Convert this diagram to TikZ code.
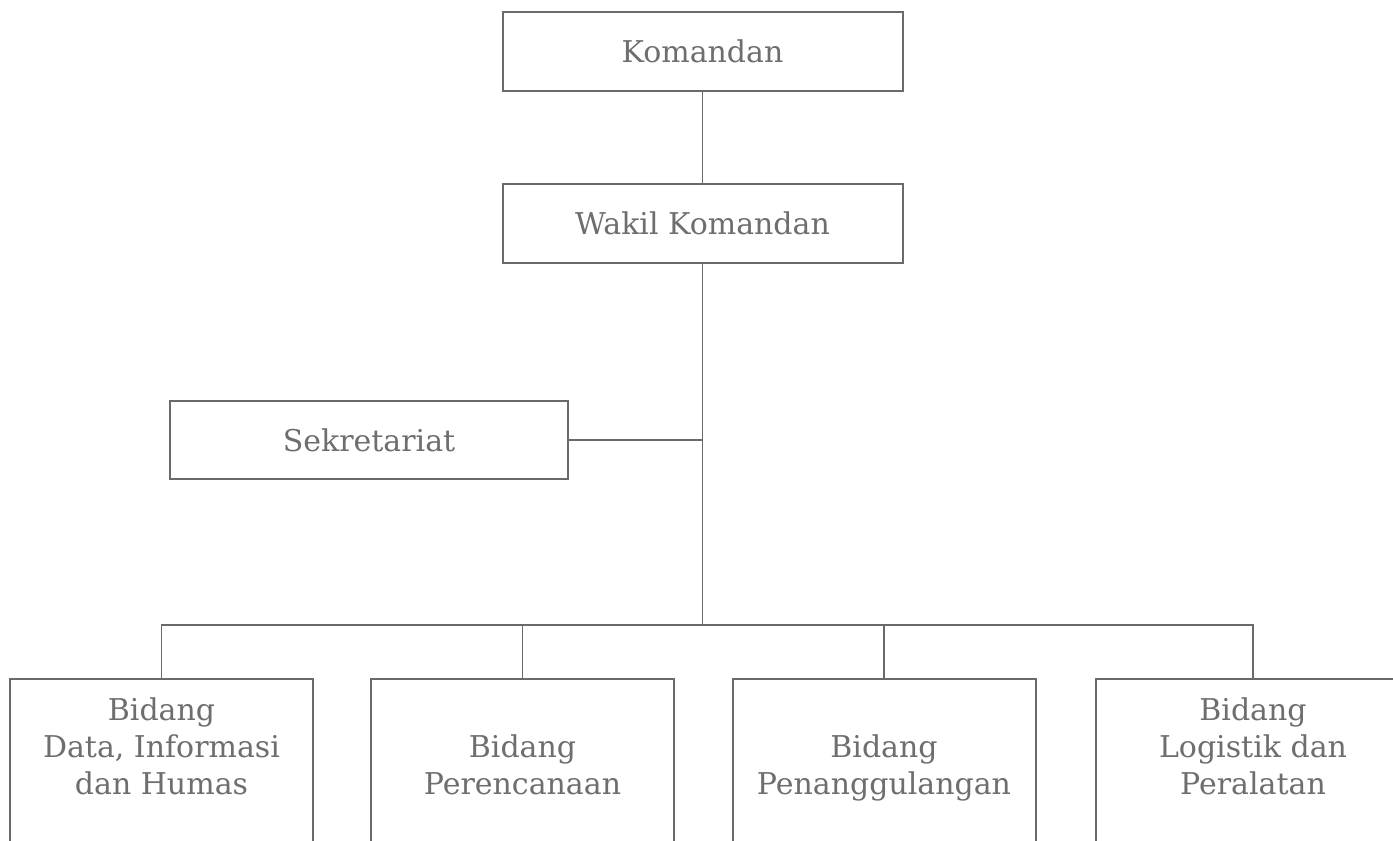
\documentclass[tikz,border=0pt]{standalone}
\usepackage{fontspec}
\setmainfont{DejaVu Serif}
\definecolor{ln}{HTML}{6A6A6A}
\definecolor{tx}{HTML}{6E6E6E}
\begin{document}
\begin{tikzpicture}[x=0.5pt,y=-0.5pt,
  txtfont/.style={font=\fontsize{15}{18.5}\selectfont,text=tx,align=center},
  topbox/.style={draw=ln,line width=1pt,rectangle,inner sep=0pt,txtfont,
    minimum width=200pt,minimum height=39.5pt},
  botbox/.style={draw=ln,line width=1pt,rectangle,inner sep=0pt,
    minimum width=151.5pt,minimum height=110.5pt},
  lbl/.style={inner sep=0pt,txtfont,anchor=north},
  conn/.style={draw=ln,line width=0.8pt}]
\useasboundingbox (0,0) rectangle (1393,841);
\fill[white] (0,0) rectangle (1393,841);
\clip (0,0) rectangle (1393,841);
% top boxes
\node[topbox] (kom) at (702.5,51.5) {Komandan};
\node[topbox] (wak) at (702.5,223) {Wakil Komandan};
\node[topbox,minimum width=199pt,minimum height=39pt] (sek) at (369,440) {Sekretariat};
% bottom boxes
\node[botbox] (b1) at (161.5,789.5) {};
\node[botbox] (b2) at (522.5,789.5) {};
\node[botbox] (b3) at (884,789.5) {};
\node[botbox,minimum width=157pt] (b4) at (1253,789.5) {};
% texts in bottom boxes
\node[lbl] (t1) at (b1.north |- 0,697) {Bidang\\Data, Informasi\\dan Humas};
\node[lbl] (t2) at (b2.north |- 0,734) {Bidang\\Perencanaan};
\node[lbl] (t3) at (b3.north |- 0,734) {Bidang\\Penanggulangan};
\node[lbl] (t4) at (b4.north |- 0,697) {Bidang\\Logistik dan\\Peralatan};
% connectors
\coordinate (j) at (wak.south |- 0,625);
\draw[conn] (kom.south) -- (wak.north);
\draw[conn] (wak.south) -- (j);
\draw[conn] (sek.east) -- (sek.east -| wak.south);
\draw[conn] (b1.north) |- (j) -| (b4.north);
\draw[conn] (b2.north) -- (b2.north |- j);
\draw[conn] (b3.north) -- (b3.north |- j);
\end{tikzpicture}
\end{document}
